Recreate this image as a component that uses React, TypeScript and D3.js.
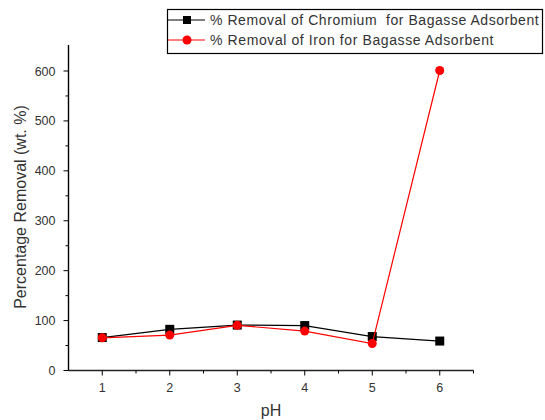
import React from "react";
import * as d3 from "d3";

const phValues = [1, 2, 3, 4, 5, 6];
const chromium = [66, 82.5, 91, 90, 68, 59];
const iron = [65.5, 71, 90.5, 79, 54, 601];
const xTicks = [1, 2, 3, 4, 5, 6];
const yTicks = [0, 100, 200, 300, 400, 500, 600];
const legendLabels = [
  "% Removal of Chromium\u00A0 for Bagasse Adsorbent",
  "% Removal of Iron for Bagasse Adsorbent",
];

export default function App() {
  const W = 545, H = 420;
  const left = 68.5, right = 473.5, top = 45, bottom = 370.5;
  const x = d3.scaleLinear().domain([0.5, 6.5]).range([left, right]);
  const y = d3.scaleLinear().domain([0, 600]).range([bottom, 71]);
  const line = d3
    .line<[number, number]>()
    .x((d) => x(d[0]))
    .y((d) => y(d[1]));
  const crPts: [number, number][] = phValues.map((p, i) => [p, chromium[i]]);
  const fePts: [number, number][] = phValues.map((p, i) => [p, iron[i]]);
  const xMinor = d3.range(1.5, 7, 1);
  const yMinor = d3.range(50, 650, 100);
  const font = "'Liberation Sans', Arial, sans-serif";
  const textCol = "#333";

  return (
    <svg
      width={W}
      height={H}
      style={{ position: "absolute", left: 0, top: 0, background: "#fff" }}
      fontFamily={font}
    >
      <rect width={W} height={H} fill="#fff" />
      {/* axes */}
      <line x1={left} y1={top} x2={left} y2={bottom} stroke="#000" strokeWidth={1.4} />
      <line x1={left} y1={bottom} x2={right} y2={bottom} stroke="#222" strokeWidth={1.4} />
      {yTicks.map((t) => (
        <g key={"y" + t}>
          <line x1={left - 5} x2={left} y1={y(t)} y2={y(t)} stroke="#000" />
          <text x={left - 13} y={y(t)} dy="0.36em" textAnchor="end" fontSize={12.5} fill={textCol}>
            {t}
          </text>
        </g>
      ))}
      {yMinor.map((t) => (
        <line key={"ym" + t} x1={left - 3} x2={left} y1={y(t)} y2={y(t)} stroke="#000" />
      ))}
      {xTicks.map((t) => (
        <g key={"x" + t}>
          <line x1={x(t)} x2={x(t)} y1={bottom} y2={bottom + 5} stroke="#000" />
          <text x={x(t)} y={392} textAnchor="middle" fontSize={12.5} fill={textCol}>
            {t}
          </text>
        </g>
      ))}
      {xMinor.map((t) => (
        <line key={"xm" + t} x1={x(t)} x2={x(t)} y1={bottom} y2={bottom + 3} stroke="#000" />
      ))}
      <text x={271} y={416} textAnchor="middle" fontSize={16} fill={textCol}>
        pH
      </text>
      <text
        transform={`translate(26,207) rotate(-90)`}
        textAnchor="middle"
        fontSize={16}
        fill={textCol}
      >
        Percentage Removal (wt. %)
      </text>
      {/* series */}
      <path d={line(crPts) || ""} fill="none" stroke="#000" strokeWidth={1.2} />
      {crPts.map((d, i) => (
        <rect key={"c" + i} x={x(d[0]) - 4.5} y={y(d[1]) - 4.5} width={9} height={9} fill="#000" />
      ))}
      <path d={line(fePts) || ""} fill="none" stroke="#f00" strokeWidth={1.2} />
      {fePts.map((d, i) => (
        <circle key={"f" + i} cx={x(d[0])} cy={y(d[1])} r={4.5} fill="#f00" />
      ))}
      {/* legend */}
      <rect x={167.5} y={9.5} width={375} height={44} fill="#fff" stroke="#000" strokeWidth={1.2} />
      <line x1={168} x2={205} y1={20} y2={20} stroke="#000" />
      <rect x={183} y={16} width={8} height={8} fill="#000" />
      <text x={210} y={20} dy="0.36em" fontSize={14} letterSpacing={0.55} fill={textCol}>
        {legendLabels[0]}
      </text>
      <line x1={168} x2={205} y1={40} y2={40} stroke="#f00" />
      <circle cx={187} cy={40} r={4.5} fill="#f00" />
      <text x={210} y={40} dy="0.36em" fontSize={14} letterSpacing={0.6} fill={textCol}>
        {legendLabels[1]}
      </text>
    </svg>
  );
}
